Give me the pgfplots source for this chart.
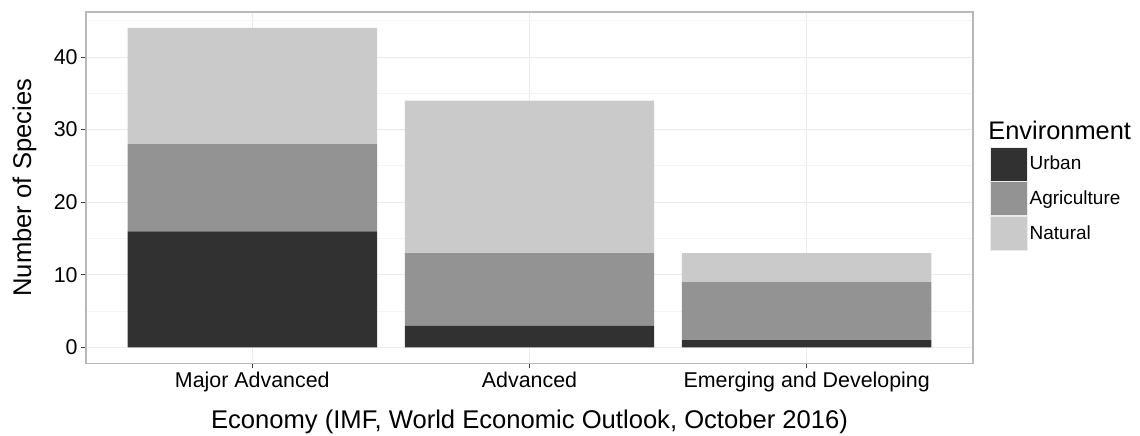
\documentclass[border=0pt]{standalone}
\usepackage{pgfplots}
\pgfplotsset{compat=1.18}
\usepackage{fontspec}
\setmainfont{Liberation Sans}
\definecolor{urban}{HTML}{313131}
\definecolor{agri}{HTML}{939393}
\definecolor{natural}{HTML}{CACACA}
\definecolor{gridmaj}{HTML}{EBEBEB}
\definecolor{gridmin}{HTML}{F4F4F4}
\definecolor{panelborder}{HTML}{B8B8B8}
\begin{document}
\begin{tikzpicture}
\begin{axis}[
    scale only axis, width=443.5pt, height=175.7pt,
    ybar stacked, bar width=0.9,
    xmin=0.4, xmax=3.6, ymin=-2.2, ymax=46.2,
    xtick={1,2,3},
    xticklabels={Major Advanced, Advanced, Emerging and Developing},
    ytick={0,10,20,30,40}, minor ytick={5,15,25,35,45},
    grid=both,
    major grid style={color=gridmaj, line width=0.5pt},
    minor grid style={color=gridmin, line width=0.5pt},
    axis line style={color=panelborder, line width=0.6pt},
    tick align=outside, xtick pos=bottom, ytick pos=left,
    major tick length=2.5pt, minor tick length=0pt,
    tick style={color=black!75, line width=0.5pt},
    ticklabel style={font=\fontsize{10.7}{12}\selectfont},
    yticklabel style={inner sep=1.5pt},
    xticklabel style={inner sep=1.5pt},
    /pgf/number format/assume math mode=true,
    xlabel={Economy (IMF, World Economic Outlook, October 2016)},
    ylabel={Number of Species},
    label style={font=\fontsize{12.8}{14}\selectfont},
    xlabel style={at={(axis description cs:0.5,-0.185)}, anchor=base},
    ylabel style={at={(axis description cs:-0.062,0.5)}, anchor=base},
    legend image code/.code={\draw[#1, draw=gridmaj, line width=0.4pt] (0pt,-8.5pt) rectangle (18.5pt,8.5pt);},
    legend cell align=left,
    legend style={at={(1.0192,0.618)}, anchor=north west, draw=none, fill=none,
        inner sep=0pt, row sep=0pt, column sep=0.2pt,
        nodes={inner sep=0.5pt}, font=\fontsize{9.5}{10}\selectfont},
]
\addplot[fill=urban, draw=none] coordinates {(1,16) (2,3) (3,1)};
\addlegendentry{Urban}
\addplot[fill=agri, draw=none] coordinates {(1,12) (2,10) (3,8)};
\addlegendentry{Agriculture}
\addplot[fill=natural, draw=none] coordinates {(1,16) (2,21) (3,4)};
\addlegendentry{Natural}
\end{axis}
\node[anchor=base west, inner sep=0pt, font=\fontsize{12.7}{14}\selectfont] at (451pt,112pt) {Environment};
\pgfresetboundingbox
\path (-43pt,-36pt) rectangle (527pt,181.7pt);
\end{tikzpicture}
\end{document}
